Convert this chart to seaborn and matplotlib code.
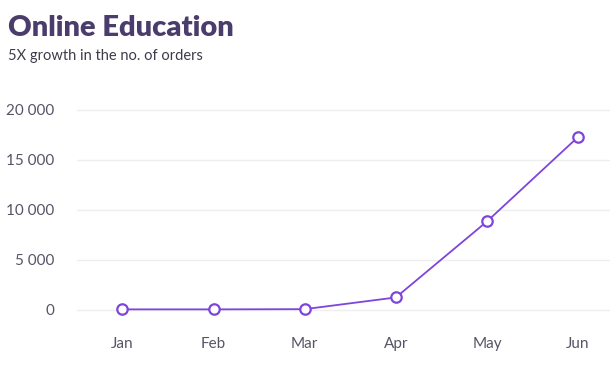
import matplotlib
matplotlib.use("Agg")
import matplotlib.pyplot as plt
from matplotlib.ticker import FuncFormatter
import pandas as pd
import seaborn as sns

months = ["Jan", "Feb", "Mar", "Apr", "May", "Jun"]
orders = [60, 60, 80, 1250, 8850, 17300]
yticks = [0, 5000, 10000, 15000, 20000]

sns.set_theme(style="white")
plt.rcParams["font.family"] = ["Lato", "DejaVu Sans"]

df = pd.DataFrame({"month": months, "orders": orders})

fig = plt.figure(figsize=(6.1, 3.8), dpi=100)
ax = fig.add_axes([0.126, 0.158, 0.874, 0.579])

sns.lineplot(data=df, x="month", y="orders", ax=ax, sort=False,
             color="#7f44dc", linewidth=1.3, marker="o", markersize=7.5,
             markerfacecolor="white", markeredgecolor="#7f44dc",
             markeredgewidth=1.6)

ax.set_xlim(-0.5, 5.35)
ax.set_ylim(-1000, 21000)
ax.set_yticks(yticks)
ax.yaxis.set_major_formatter(FuncFormatter(lambda v, p: f"{int(v):,}".replace(",", " ")))
ax.grid(axis="y", color="#eeeeee", linewidth=1)
ax.set_axisbelow(True)
for s in ax.spines.values():
    s.set_visible(False)
ax.tick_params(axis="y", length=0, pad=16, labelsize=11, labelcolor="#555566")
ax.tick_params(axis="x", length=0, pad=12, labelsize=11, labelcolor="#555566")
ax.set_xlabel("")
ax.set_ylabel("")

fig.text(0.013, 0.906, "Online Education", fontsize=21, fontweight="heavy",
         color="#4a3d6b", va="baseline")
fig.text(0.013, 0.843, "5X growth in the no. of orders", fontsize=10.5,
         color="#3f3b4a", va="baseline")

fig.savefig("out.png", dpi=100)
